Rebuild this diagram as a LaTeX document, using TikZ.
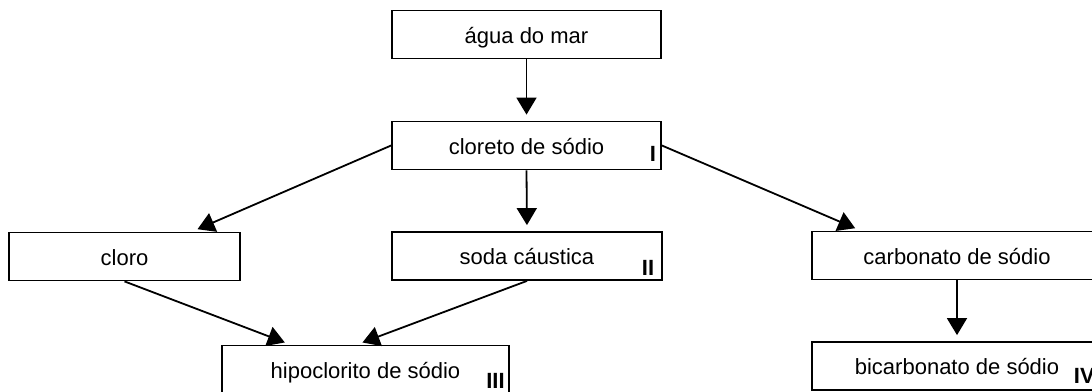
\documentclass[tikz,border=0pt]{standalone}
\usepackage{fontspec}
\setmainfont{Liberation Sans}
\usetikzlibrary{arrows.meta, positioning, calc}

\begin{document}
\begin{tikzpicture}[>={Triangle[length=8.5pt,width=10pt]}, x=.5pt, y=-.5pt, line width=.9pt,
  font=\fontsize{11}{13}\selectfont,
  caixa/.style={draw, minimum height=24pt, text height=8.5pt, text depth=0pt, inner sep=0pt},
  rotulo/.style={font=\fontsize{11}{13}\selectfont\bfseries, inner sep=0pt, anchor=base},
  seta/.style={->, shorten >=3pt}]
\useasboundingbox (0,0) rectangle (1092,391);
\clip (0,0) rectangle (1092,391);
%
\node[caixa, minimum width=134.5pt] (agua) at (526.5,34.5) {água do mar};
\node[caixa, minimum width=134.5pt] (cloreto) at (526.5,145.5) {cloreto de sódio};
\node[caixa, minimum width=115.5pt] (cloro) at (124.5,256.5) {cloro};
\node[caixa, minimum width=135pt] (soda) at (527,256) {soda cáustica};
\node[caixa, minimum width=145pt] (carbonato) at (957,255.5) {carbonato de sódio};
\node[caixa, minimum width=143.5pt] (hipo) at (365.5,369.5) {hipoclorito de sódio};
\node[caixa, minimum width=145pt] (bicarbonato) at (957,366) {bicarbonato de sódio};
%
\node[rotulo] (rI) at (653,161) {I};
\node[rotulo] (rII) at (648,275) {II};
\node[rotulo] (rIII) at (495.5,388) {III};
\node[rotulo, anchor=base west] (rIV) at (1073,383) {IV};
%
\draw[seta] (agua.south) -- (cloreto.north);
\draw[seta] (cloreto.south) -- (soda.north);
\draw[seta] (cloreto.west) -- ($(cloro.north west)!.79!(cloro.north east)$);
\draw[seta] (cloreto.east) -- ($(carbonato.north west)!.17!(carbonato.north east)$);
\draw[seta] (cloro.south) -- ($(hipo.north west)!.24!(hipo.north east)$);
\draw[seta] (soda.south) -- ($(hipo.north west)!.47!(hipo.north east)$);
\draw[seta] (carbonato.south) -- (bicarbonato.north);
\end{tikzpicture}
\end{document}
